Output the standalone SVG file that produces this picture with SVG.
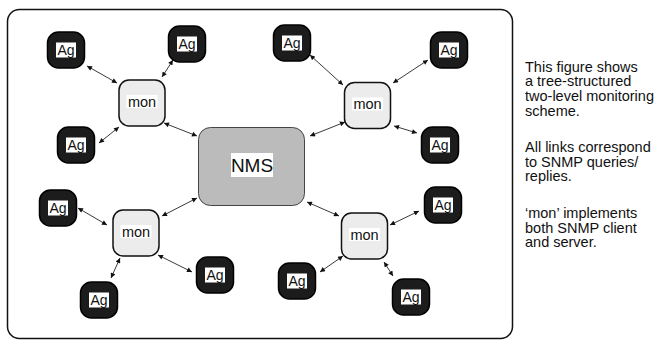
<svg xmlns="http://www.w3.org/2000/svg" xmlns:xlink="http://www.w3.org/1999/xlink" width="656" height="343" viewBox="0 0 656 343">
<style>
.frame{fill:#fff;stroke:#111;stroke-width:1.5}
.ag{fill:#1c1c1c;stroke:#000;stroke-width:1.5}
.agbg{fill:#fff}
.mon{fill:#ececec;stroke:#111;stroke-width:1.5}
.nms{fill:#bbbbbb;stroke:#444;stroke-width:1}
.lbl{font-family:"Liberation Sans",Arial,sans-serif;fill:#111;text-anchor:middle}
.ag-t{font-size:14px}
.mon-t{font-size:14.5px}
.nms-t{font-size:19px}
.conn line{stroke:#222;stroke-width:0.9;marker-start:url(#ah);marker-end:url(#ah)}
.note{font-family:"Liberation Sans",Arial,sans-serif;font-size:14.5px;fill:#111}
</style>
<defs>
<marker id="ah" viewBox="0 0 10 10" refX="10" refY="5" markerWidth="6" markerHeight="5" markerUnits="userSpaceOnUse" orient="auto-start-reverse">
<path d="M0,0 L10,5 L0,10 z" fill="#111"/>
</marker>
<g id="agshape">
<rect class="ag" x="-18.5" y="-18" width="37" height="36" rx="11"/>
<rect class="agbg" x="-10" y="-7.5" width="20" height="15"/>
<text class="lbl ag-t" x="0" y="5">Ag</text>
</g>
<g id="monshape">
<rect class="mon" x="-23" y="-23" width="46" height="46" rx="10"/>
<rect class="agbg" x="-15.5" y="-8" width="31" height="13"/>
<text class="lbl mon-t" x="0" y="3.5">mon</text>
</g>
</defs>
<rect class="frame" x="7.5" y="9.5" width="505" height="329" rx="12"/>
<g id="connectors" class="conn">
<line x1="87" y1="66" x2="117" y2="83"/>
<line x1="173" y1="60" x2="162" y2="77"/>
<line x1="99" y1="143" x2="119" y2="127"/>
<line x1="164" y1="123" x2="197" y2="136"/>
<line x1="310" y1="55" x2="343" y2="85"/>
<line x1="428" y1="60" x2="393" y2="83"/>
<line x1="310" y1="136" x2="345" y2="122"/>
<line x1="394" y1="126" x2="417" y2="133"/>
<line x1="78" y1="208" x2="107" y2="225"/>
<line x1="197" y1="198" x2="162" y2="216"/>
<line x1="120" y1="258" x2="111" y2="278"/>
<line x1="158" y1="255" x2="192" y2="272"/>
<line x1="307" y1="202" x2="339" y2="216"/>
<line x1="390" y1="225" x2="419" y2="211"/>
<line x1="343" y1="256" x2="320" y2="272"/>
<line x1="384" y1="262" x2="393" y2="276"/>
</g>
<g id="nms">
<rect class="nms" x="198.5" y="127.5" width="106" height="78" rx="12"/>
<rect class="agbg" x="231" y="153" width="42" height="24"/>
<text class="lbl nms-t" x="252" y="172">NMS</text>
</g>
<g id="mon1"><use xlink:href="#monshape" transform="translate(142,103)"/></g>
<g id="mon2"><use xlink:href="#monshape" transform="translate(367.5,105.5)"/></g>
<g id="mon3"><use xlink:href="#monshape" transform="translate(136,233)"/></g>
<g id="mon4"><use xlink:href="#monshape" transform="translate(364.5,236)"/></g>
<g id="ag1"><use xlink:href="#agshape" transform="translate(66,50)"/></g>
<g id="ag2"><use xlink:href="#agshape" transform="translate(187,44)"/></g>
<g id="ag3"><use xlink:href="#agshape" transform="translate(76,145)"/></g>
<g id="ag4"><use xlink:href="#agshape" transform="translate(292,43)"/></g>
<g id="ag5"><use xlink:href="#agshape" transform="translate(449,50)"/></g>
<g id="ag6"><use xlink:href="#agshape" transform="translate(440,145)"/></g>
<g id="ag7"><use xlink:href="#agshape" transform="translate(58,208)"/></g>
<g id="ag8"><use xlink:href="#agshape" transform="translate(99,300)"/></g>
<g id="ag9"><use xlink:href="#agshape" transform="translate(215,275)"/></g>
<g id="ag10"><use xlink:href="#agshape" transform="translate(443,205)"/></g>
<g id="ag11"><use xlink:href="#agshape" transform="translate(297,281)"/></g>
<g id="ag12"><use xlink:href="#agshape" transform="translate(411,297)"/></g>
<g id="notes">
<text class="note" x="525" y="71.5">This figure shows</text>
<text class="note" x="525" y="86">a tree-structured</text>
<text class="note" x="525" y="100.7">two-level monitoring</text>
<text class="note" x="525" y="115.5">scheme.</text>
<text class="note" x="525" y="152">All links correspond</text>
<text class="note" x="525" y="166.5">to SNMP queries/</text>
<text class="note" x="525" y="181">replies.</text>
<text class="note" x="525" y="218">‘mon’ implements</text>
<text class="note" x="525" y="232.5">both SNMP client</text>
<text class="note" x="525" y="247">and server.</text>
</g>
</svg>
